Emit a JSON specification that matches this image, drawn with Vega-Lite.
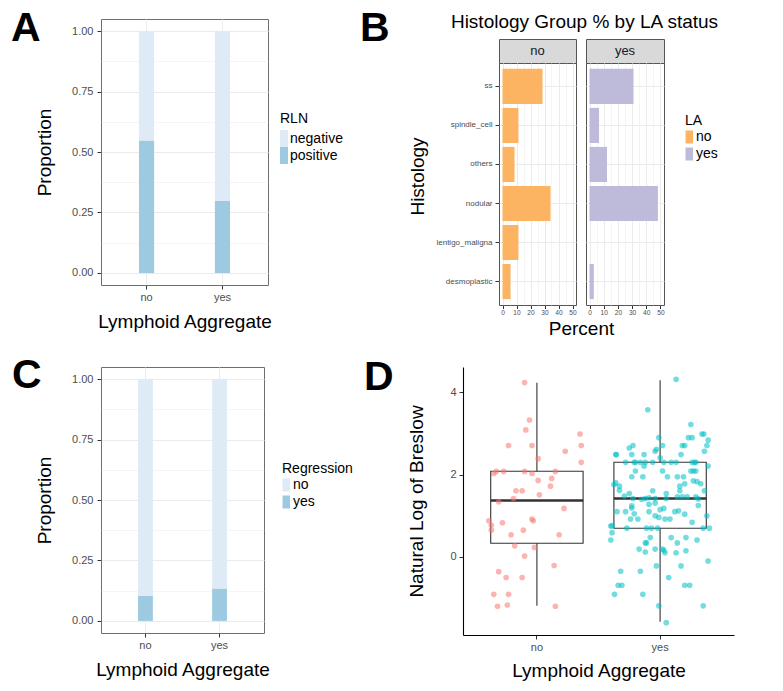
{
"$schema": "https://vega.github.io/schema/vega-lite/v6.json",
"padding": {"left": 10, "top": 7, "right": 5, "bottom": 5},
"background": "white",
"config": {
  "font": "Liberation Sans",
  "view": {"stroke": null},
  "axis": {"labelColor": "#4d4d4d", "labelFontSize": 11, "titleFontSize": 19, "titleFontWeight": "normal", "titleColor": "#000000", "tickColor": "#333333", "tickSize": 4, "gridColor": "#ebebeb", "labelPadding": 3},
  "legend": {"titleFontSize": 14, "titleFontWeight": "normal", "labelFontSize": 14, "titleColor": "#000000", "labelColor": "#000000", "padding": 0, "symbolStrokeWidth": 0, "symbolOpacity": 1},
  "title": {"color": "#000000", "offset": 0}
},
"datasets": {
  "rln": [
    {"LA": "no", "RLN": "negative", "prop": 0.453},
    {"LA": "no", "RLN": "positive", "prop": 0.547},
    {"LA": "yes", "RLN": "negative", "prop": 0.703},
    {"LA": "yes", "RLN": "positive", "prop": 0.297}
  ],
  "reg": [
    {"LA": "no", "Regression": "no", "prop": 0.897},
    {"LA": "no", "Regression": "yes", "prop": 0.103},
    {"LA": "yes", "Regression": "no", "prop": 0.867},
    {"LA": "yes", "Regression": "yes", "prop": 0.133}
  ],
  "hist": [
    {"LA": "no", "Histology": "ss", "Percent": 28.6},
    {"LA": "no", "Histology": "spindle_cell", "Percent": 11.4},
    {"LA": "no", "Histology": "others", "Percent": 8.6},
    {"LA": "no", "Histology": "nodular", "Percent": 34.3},
    {"LA": "no", "Histology": "lentigo_maligna", "Percent": 11.4},
    {"LA": "no", "Histology": "desmoplastic", "Percent": 5.7},
    {"LA": "yes", "Histology": "ss", "Percent": 31.0},
    {"LA": "yes", "Histology": "spindle_cell", "Percent": 6.7},
    {"LA": "yes", "Histology": "others", "Percent": 12.3},
    {"LA": "yes", "Histology": "nodular", "Percent": 48.2},
    {"LA": "yes", "Histology": "desmoplastic", "Percent": 3.0}
  ],
  "box": [
    {"LA": "no", "lo": -1.19, "q1": 0.333, "med": 1.371, "q3": 2.085, "hi": 4.235},
    {"LA": "yes", "lo": -1.58, "q1": 0.698, "med": 1.42, "q3": 2.304, "hi": 4.30}
  ],
  "breslow": [
    {"LA":"no","j":-0.10,"v":4.24},{"LA":"no","j":-0.06,"v":3.33},{"LA":"no","j":-0.09,"v":3.09},{"LA":"no","j":-0.23,"v":2.71},{"LA":"no","j":-0.04,"v":2.71},{"LA":"no","j":0.35,"v":2.99},{"LA":"no","j":0.36,"v":2.71},{"LA":"no","j":0.23,"v":2.57},{"LA":"no","j":0.01,"v":2.39},{"LA":"no","j":0.36,"v":2.30},{"LA":"no","j":-0.35,"v":2.03},{"LA":"no","j":-0.33,"v":2.08},{"LA":"no","j":-0.27,"v":2.08},{"LA":"no","j":-0.10,"v":2.08},{"LA":"no","j":-0.04,"v":2.03},{"LA":"no","j":0.15,"v":2.08},{"LA":"no","j":0.01,"v":1.86},{"LA":"no","j":0.12,"v":1.91},{"LA":"no","j":0.11,"v":1.72},{"LA":"no","j":-0.17,"v":1.61},{"LA":"no","j":-0.12,"v":1.61},{"LA":"no","j":0.02,"v":1.51},{"LA":"no","j":-0.19,"v":1.42},{"LA":"no","j":-0.31,"v":1.34},{"LA":"no","j":0.22,"v":1.18},{"LA":"no","j":-0.04,"v":0.92},{"LA":"no","j":-0.03,"v":0.88},{"LA":"no","j":-0.39,"v":0.88},{"LA":"no","j":-0.37,"v":0.77},{"LA":"no","j":-0.28,"v":0.83},{"LA":"no","j":-0.37,"v":0.65},{"LA":"no","j":-0.11,"v":0.65},{"LA":"no","j":-0.21,"v":0.54},{"LA":"no","j":0.18,"v":0.54},{"LA":"no","j":-0.18,"v":0.27},{"LA":"no","j":-0.02,"v":0.23},{"LA":"no","j":-0.10,"v":0.02},{"LA":"no","j":0.14,"v":-0.21},{"LA":"no","j":-0.31,"v":-0.36},{"LA":"no","j":-0.25,"v":-0.50},{"LA":"no","j":-0.12,"v":-0.50},{"LA":"no","j":-0.35,"v":-0.91},{"LA":"no","j":-0.23,"v":-0.91},{"LA":"no","j":-0.32,"v":-1.20},{"LA":"no","j":-0.24,"v":-1.17},{"LA":"no","j":0.15,"v":-1.20},
    {"LA":"yes","j":0.13,"v":4.32},{"LA":"yes","j":-0.10,"v":3.58},{"LA":"yes","j":0.25,"v":3.22},{"LA":"yes","j":0.34,"v":2.99},{"LA":"yes","j":0.355,"v":2.99},{"LA":"yes","j":-0.01,"v":2.90},{"LA":"yes","j":0.23,"v":2.90},{"LA":"yes","j":0.26,"v":2.90},{"LA":"yes","j":0.39,"v":2.84},{"LA":"yes","j":-0.25,"v":2.65},{"LA":"yes","j":-0.22,"v":2.71},{"LA":"yes","j":0.02,"v":2.71},{"LA":"yes","j":0.18,"v":2.71},{"LA":"yes","j":0.20,"v":2.71},{"LA":"yes","j":0.38,"v":2.71},{"LA":"yes","j":-0.36,"v":2.49},{"LA":"yes","j":-0.355,"v":2.49},{"LA":"yes","j":-0.23,"v":2.49},{"LA":"yes","j":-0.13,"v":2.49},{"LA":"yes","j":-0.04,"v":2.57},{"LA":"yes","j":-0.03,"v":2.62},{"LA":"yes","j":0.17,"v":2.49},{"LA":"yes","j":0.36,"v":2.57},{"LA":"yes","j":0.0,"v":2.41},
    {"LA":"yes","j":-0.28,"v":2.30},{"LA":"yes","j":-0.21,"v":2.30},{"LA":"yes","j":-0.20,"v":2.30},{"LA":"yes","j":-0.16,"v":2.30},{"LA":"yes","j":-0.12,"v":2.30},{"LA":"yes","j":-0.06,"v":2.30},{"LA":"yes","j":0.03,"v":2.30},{"LA":"yes","j":0.09,"v":2.30},{"LA":"yes","j":0.13,"v":2.30},{"LA":"yes","j":0.26,"v":2.30},{"LA":"yes","j":0.28,"v":2.30},{"LA":"yes","j":0.29,"v":2.30},
    {"LA":"yes","j":0.39,"v":2.21},{"LA":"yes","j":-0.13,"v":2.21},{"LA":"yes","j":-0.20,"v":2.09},{"LA":"yes","j":0.02,"v":2.09},{"LA":"yes","j":0.25,"v":2.09},{"LA":"yes","j":0.27,"v":2.09},{"LA":"yes","j":0.29,"v":2.09},
    {"LA":"yes","j":-0.23,"v":1.95},{"LA":"yes","j":-0.14,"v":1.95},{"LA":"yes","j":0.06,"v":1.95},{"LA":"yes","j":0.14,"v":1.95},{"LA":"yes","j":0.19,"v":1.95},{"LA":"yes","j":0.27,"v":1.85},{"LA":"yes","j":0.30,"v":1.83},{"LA":"yes","j":0.33,"v":1.78},{"LA":"yes","j":-0.375,"v":1.76},{"LA":"yes","j":-0.36,"v":1.80},{"LA":"yes","j":-0.33,"v":1.72},{"LA":"yes","j":-0.33,"v":1.62},{"LA":"yes","j":0.20,"v":1.78},{"LA":"yes","j":0.16,"v":1.72},{"LA":"yes","j":0.16,"v":1.61},{"LA":"yes","j":-0.06,"v":1.61},{"LA":"yes","j":0.36,"v":1.61},
    {"LA":"yes","j":-0.29,"v":1.48},{"LA":"yes","j":-0.25,"v":1.54},{"LA":"yes","j":0.05,"v":1.54},{"LA":"yes","j":-0.12,"v":1.42},{"LA":"yes","j":-0.09,"v":1.44},{"LA":"yes","j":-0.15,"v":1.40},{"LA":"yes","j":-0.22,"v":1.42},{"LA":"yes","j":-0.04,"v":1.42},{"LA":"yes","j":0.05,"v":1.42},{"LA":"yes","j":0.14,"v":1.46},{"LA":"yes","j":0.18,"v":1.46},{"LA":"yes","j":0.22,"v":1.46},{"LA":"yes","j":0.29,"v":1.46},{"LA":"yes","j":0.31,"v":1.41},
    {"LA":"yes","j":-0.09,"v":1.28},{"LA":"yes","j":-0.04,"v":1.31},{"LA":"yes","j":-0.23,"v":1.24},{"LA":"yes","j":-0.23,"v":1.19},{"LA":"yes","j":0.31,"v":1.25},{"LA":"yes","j":-0.35,"v":1.10},{"LA":"yes","j":-0.28,"v":1.10},{"LA":"yes","j":0.0,"v":1.15},{"LA":"yes","j":0.03,"v":1.18},{"LA":"yes","j":0.12,"v":1.10},{"LA":"yes","j":0.15,"v":1.12},{"LA":"yes","j":-0.21,"v":1.05},{"LA":"yes","j":-0.09,"v":1.10},
    {"LA":"yes","j":-0.04,"v":1.00},{"LA":"yes","j":-0.01,"v":0.96},{"LA":"yes","j":0.20,"v":1.04},{"LA":"yes","j":0.38,"v":1.00},{"LA":"yes","j":-0.24,"v":0.92},{"LA":"yes","j":-0.18,"v":0.92},{"LA":"yes","j":0.04,"v":0.92},{"LA":"yes","j":0.08,"v":0.92},{"LA":"yes","j":0.26,"v":0.84},
    {"LA":"yes","j":-0.40,"v":0.75},{"LA":"yes","j":-0.39,"v":0.76},{"LA":"yes","j":-0.27,"v":0.70},{"LA":"yes","j":-0.11,"v":0.70},{"LA":"yes","j":-0.07,"v":0.70},{"LA":"yes","j":-0.02,"v":0.70},{"LA":"yes","j":0.35,"v":0.70},{"LA":"yes","j":0.40,"v":0.70},{"LA":"yes","j":-0.39,"v":0.59},
    {"LA":"yes","j":-0.08,"v":0.47},{"LA":"yes","j":0.09,"v":0.47},{"LA":"yes","j":0.21,"v":0.47},{"LA":"yes","j":-0.40,"v":0.41},{"LA":"yes","j":0.30,"v":0.41},{"LA":"yes","j":0.14,"v":0.34},{"LA":"yes","j":-0.12,"v":0.34},{"LA":"yes","j":-0.11,"v":0.34},
    {"LA":"yes","j":-0.17,"v":0.19},{"LA":"yes","j":-0.04,"v":0.19},{"LA":"yes","j":0.02,"v":0.19},{"LA":"yes","j":0.03,"v":0.16},{"LA":"yes","j":-0.12,"v":0.12},{"LA":"yes","j":0.04,"v":0.10},{"LA":"yes","j":0.13,"v":0.10},{"LA":"yes","j":0.21,"v":0.15},
    {"LA":"yes","j":0.39,"v":-0.10},{"LA":"yes","j":-0.03,"v":-0.22},{"LA":"yes","j":0.17,"v":-0.22},{"LA":"yes","j":-0.32,"v":-0.35},{"LA":"yes","j":-0.16,"v":-0.35},{"LA":"yes","j":0.07,"v":-0.50},{"LA":"yes","j":-0.34,"v":-0.69},{"LA":"yes","j":-0.31,"v":-0.69},{"LA":"yes","j":0.20,"v":-0.69},{"LA":"yes","j":0.24,"v":-0.69},
    {"LA":"yes","j":-0.37,"v":-0.91},{"LA":"yes","j":-0.14,"v":-0.91},{"LA":"yes","j":-0.01,"v":-1.19},{"LA":"yes","j":0.35,"v":-1.19},{"LA":"yes","j":0.05,"v":-1.60}
  ]
},
"spacing": 15,
"resolve": {"scale": {"color": "independent", "x": "independent", "y": "independent"}, "legend": {"color": "independent"}},
"vconcat": [
  {
    "bounds": "flush",
    "spacing": 231,
    "resolve": {"scale": {"color": "independent", "x": "independent", "y": "independent"}, "legend": {"color": "independent"}},
    "hconcat": [
      {
        "width": 167, "height": 266,
        "title": {"text": "A", "fontSize": 41, "fontWeight": "bold", "anchor": "start", "frame": "group", "baseline": "alphabetic", "dx": -90, "dy": 63, "offset": 0},
        "view": {"stroke": "#6e6e6e", "strokeWidth": 1},
        "data": {"name": "rln"},
        "mark": {"type": "bar", "width": {"band": 0.2}},
        "encoding": {
          "x": {"field": "LA", "type": "nominal", "scale": {"paddingInner": 0, "paddingOuter": 0.1},
                "axis": {"title": "Lymphoid Aggregate", "labelAngle": 0, "grid": true, "bandPosition": 0.5, "domain": false, "labelPadding": 2, "titlePadding": 10}},
          "y": {"field": "prop", "type": "quantitative", "stack": "zero", "scale": {"domain": [-0.05, 1.05], "nice": false, "zero": false},
                "axis": {"title": "Proportion", "values": [0, 0.125, 0.25, 0.375, 0.5, 0.625, 0.75, 0.875, 1], "format": ".2f",
                         "labelExpr": "(datum.value*8) % 2 === 0 ? datum.label : ''",
                         "tickOpacity": {"condition": {"test": "(datum.value*8) % 2 === 1", "value": 0}, "value": 1},
                         "gridWidth": {"condition": {"test": "(datum.value*8) % 2 === 1", "value": 0.5}, "value": 1},
                         "domain": false, "labelPadding": 4, "titlePadding": 17}},
          "color": {"field": "RLN", "type": "nominal", "scale": {"domain": ["negative", "positive"], "range": ["#deebf7", "#9ecae1"]},
                    "legend": {"title": "RLN", "orient": "none", "legendX": 179, "legendY": 93, "symbolType": "M-1,-1H-0.06V1H-1Z", "symbolSize": 289, "rowPadding": -1, "labelOffset": -7, "titlePadding": 4}},
          "order": {"field": "RLN", "sort": "descending"}
        }
      },
      {
        "title": {"text": "B", "fontSize": 41, "fontWeight": "bold", "anchor": "start", "frame": "group", "baseline": "alphabetic", "dx": -139, "dy": 69, "offset": 0},
        "bounds": "flush",
        "spacing": 19,
        "vconcat": [
          {
            "width": 165, "height": 1,
            "title": {"text": "Histology Group % by LA status", "fontSize": 19, "fontWeight": "normal", "anchor": "middle", "frame": "group", "baseline": "alphabetic", "dx": 3, "dy": 33, "offset": 0},
            "data": {"values": [{}]},
            "mark": {"type": "text", "text": ""},
            "encoding": {}
          },
          {
            "columns": 2,
            "bounds": "flush",
            "spacing": {"row": 0, "column": 10},
            "resolve": {"scale": {"color": "independent", "x": "independent", "y": "independent"}, "legend": {"color": "independent"}},
            "concat": [
              {
                "width": 77, "height": 24,
                "view": {"fill": "#d9d9d9", "stroke": "#555555"},
                "data": {"values": [{"LA": "no"}]},
                "mark": {"type": "text", "fontSize": 13, "color": "#1a1a1a", "baseline": "middle"},
                "encoding": {"text": {"field": "LA"}}
              },
              {
                "width": 78, "height": 24,
                "view": {"fill": "#d9d9d9", "stroke": "#555555"},
                "data": {"values": [{"LA": "yes"}]},
                "mark": {"type": "text", "fontSize": 13, "color": "#1a1a1a", "baseline": "middle"},
                "encoding": {"text": {"field": "LA"}}
              },
              {
                "width": 77, "height": 242,
                "view": {"stroke": "#555555"},
                "data": {"name": "hist"},
                "transform": [{"filter": "datum.LA === 'no'"}],
                "mark": {"type": "bar"},
                "encoding": {
                  "y": {"field": "Histology", "type": "nominal",
                        "scale": {"domain": ["ss", "spindle_cell", "others", "nodular", "lentigo_maligna", "desmoplastic"], "paddingInner": 0.1, "paddingOuter": 0.15},
                        "axis": {"title": "Histology", "labelFontSize": 8, "tickSize": 4, "labelPadding": 3, "titlePadding": 8, "titleY": 113, "grid": true, "bandPosition": 0.5, "domain": false}},
                  "x": {"field": "Percent", "type": "quantitative", "scale": {"domain": [-2.5, 52.5], "nice": false, "zero": false},
                        "axis": {"title": "Percent", "titleX": 82, "titlePadding": 3, "values": [0, 5, 10, 15, 20, 25, 30, 35, 40, 45, 50],
                                 "labelExpr": "datum.value % 10 === 0 ? datum.label : ''", "labelFontSize": 6.6, "tickSize": 3.5, "labelPadding": 1,
                                 "tickOpacity": {"condition": {"test": "datum.value % 10 !== 0", "value": 0}, "value": 1},
                                 "gridWidth": {"condition": {"test": "datum.value % 10 !== 0", "value": 0.5}, "value": 1},
                                 "domain": false}},
                  "color": {"field": "LA", "type": "nominal", "scale": {"domain": ["no", "yes"], "range": ["#fdb462", "#bebada"]}, "legend": null}
                }
              },
              {
                "width": 78, "height": 242,
                "view": {"stroke": "#555555"},
                "data": {"name": "hist"},
                "transform": [{"filter": "datum.LA === 'yes'"}],
                "mark": {"type": "bar"},
                "encoding": {
                  "y": {"field": "Histology", "type": "nominal",
                        "scale": {"domain": ["ss", "spindle_cell", "others", "nodular", "lentigo_maligna", "desmoplastic"], "paddingInner": 0.1, "paddingOuter": 0.15},
                        "axis": {"title": null, "labels": false, "ticks": false, "grid": true, "bandPosition": 0.5, "domain": false}},
                  "x": {"field": "Percent", "type": "quantitative", "scale": {"domain": [-2.5, 52.5], "nice": false, "zero": false},
                        "axis": {"title": null, "values": [0, 5, 10, 15, 20, 25, 30, 35, 40, 45, 50],
                                 "labelExpr": "datum.value % 10 === 0 ? datum.label : ''", "labelFontSize": 6.6, "tickSize": 3.5, "labelPadding": 1,
                                 "tickOpacity": {"condition": {"test": "datum.value % 10 !== 0", "value": 0}, "value": 1},
                                 "gridWidth": {"condition": {"test": "datum.value % 10 !== 0", "value": 0.5}, "value": 1},
                                 "domain": false}},
                  "color": {"field": "LA", "type": "nominal", "scale": {"domain": ["no", "yes"], "range": ["#fdb462", "#bebada"]},
                            "legend": {"title": "LA", "orient": "none", "legendX": 99, "legendY": 51, "symbolType": "M-1,-1H0.16V1H-1Z", "symbolSize": 169, "rowPadding": 3, "labelOffset": -3, "titlePadding": 2}}
                }
              }
            ]
          }
        ]
      }
    ]
  },
  {
    "bounds": "flush",
    "spacing": 199,
    "resolve": {"scale": {"color": "independent", "x": "independent", "y": "independent"}, "legend": {"color": "independent"}},
    "hconcat": [
      {
        "width": 163, "height": 266,
        "title": {"text": "C", "fontSize": 41, "fontWeight": "bold", "anchor": "start", "frame": "group", "baseline": "alphabetic", "dx": -89, "dy": 62, "offset": 0},
        "view": {"stroke": "#6e6e6e", "strokeWidth": 1},
        "data": {"name": "reg"},
        "mark": {"type": "bar", "width": {"band": 0.2}},
        "encoding": {
          "x": {"field": "LA", "type": "nominal", "scale": {"paddingInner": 0, "paddingOuter": 0.1},
                "axis": {"title": "Lymphoid Aggregate", "labelAngle": 0, "grid": true, "bandPosition": 0.5, "domain": false, "labelPadding": 2, "titlePadding": 10}},
          "y": {"field": "prop", "type": "quantitative", "stack": "zero", "scale": {"domain": [-0.05, 1.05], "nice": false, "zero": false},
                "axis": {"title": "Proportion", "values": [0, 0.125, 0.25, 0.375, 0.5, 0.625, 0.75, 0.875, 1], "format": ".2f",
                         "labelExpr": "(datum.value*8) % 2 === 0 ? datum.label : ''",
                         "tickOpacity": {"condition": {"test": "(datum.value*8) % 2 === 1", "value": 0}, "value": 1},
                         "gridWidth": {"condition": {"test": "(datum.value*8) % 2 === 1", "value": 0.5}, "value": 1},
                         "domain": false, "labelPadding": 4, "titlePadding": 17}},
          "color": {"field": "Regression", "type": "nominal", "scale": {"domain": ["no", "yes"], "range": ["#deebf7", "#9ecae1"]},
                    "legend": {"title": "Regression", "orient": "none", "legendX": 181, "legendY": 95, "symbolType": "M-1,-1H0.16V1H-1Z", "symbolSize": 169, "rowPadding": 3, "labelOffset": -3, "titlePadding": 2}},
          "order": {"field": "Regression", "sort": "descending"}
        }
      },
      {
        "width": 271, "height": 268,
        "title": {"text": "D", "fontSize": 41, "fontWeight": "bold", "anchor": "start", "frame": "group", "baseline": "alphabetic", "dx": -99, "dy": 64, "offset": 0},
        "resolve": {"scale": {"xOffset": "independent"}},
        "encoding": {
          "x": {"field": "LA", "type": "nominal", "scale": {"paddingInner": 0, "paddingOuter": 0.1},
                "axis": {"title": "Lymphoid Aggregate", "labelAngle": 0, "domainColor": "#000000", "domainWidth": 1.1, "labelPadding": 2, "titlePadding": 9}}
        },
        "layer": [
          {
            "data": {"name": "box"},
            "mark": {"type": "rule", "color": "#333333", "strokeWidth": 1.1},
            "encoding": {
              "y": {"field": "lo", "type": "quantitative", "scale": {"domain": [-1.9, 4.62], "nice": false, "zero": false},
                    "axis": {"title": "Natural Log of Breslow", "values": [0, 2, 4], "domainColor": "#000000", "domainWidth": 1.1, "titlePadding": 23, "grid": false}},
              "y2": {"field": "hi"}
            }
          },
          {
            "data": {"name": "box"},
            "mark": {"type": "bar", "width": {"band": 0.75}, "fill": "#ffffff", "stroke": "#333333", "strokeWidth": 1.1},
            "encoding": {
              "y": {"field": "q1", "type": "quantitative", "axis": {"title": "Natural Log of Breslow", "values": [0, 2, 4], "domainColor": "#000000", "domainWidth": 1.1, "titlePadding": 23, "grid": false}},
              "y2": {"field": "q3"}
            }
          },
          {
            "data": {"name": "box"},
            "mark": {"type": "bar", "width": {"band": 0.75}, "fill": null, "stroke": "#333333", "strokeWidth": 2.6},
            "encoding": {
              "y": {"field": "med", "type": "quantitative", "axis": {"title": "Natural Log of Breslow", "values": [0, 2, 4], "domainColor": "#000000", "domainWidth": 1.1, "titlePadding": 23, "grid": false}},
              "y2": {"field": "med"}
            }
          },
          {
            "data": {"name": "breslow"},
            "mark": {"type": "circle", "size": 32, "opacity": 0.55},
            "encoding": {
              "xOffset": {"field": "j", "type": "quantitative", "scale": {"domain": [-0.5, 0.5], "nice": false, "zero": false}},
              "y": {"field": "v", "type": "quantitative", "axis": {"title": "Natural Log of Breslow", "values": [0, 2, 4], "domainColor": "#000000", "domainWidth": 1.1, "titlePadding": 23, "grid": false}},
              "color": {"field": "LA", "type": "nominal", "scale": {"domain": ["no", "yes"], "range": ["#F8766D", "#00BFC4"]}, "legend": null}
            }
          }
        ]
      }
    ]
  }
]
}
